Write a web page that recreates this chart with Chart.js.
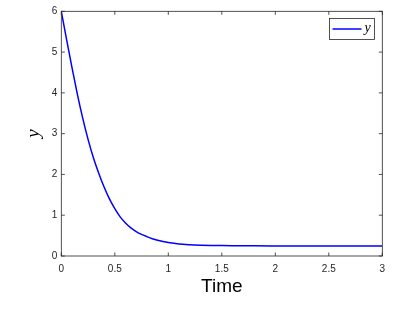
<!DOCTYPE html>
<html><head><meta charset="utf-8">
<script src="https://cdn.jsdelivr.net/npm/chart.js@4/dist/chart.umd.min.js"></script>
<style>html,body{margin:0;padding:0;background:#fff;}</style>
</head><body>
<canvas id="c" width="415" height="312"></canvas>
<script>
const timeValues = [0, 0.05, 0.1, 0.15, 0.2, 0.25, 0.3, 0.35, 0.4, 0.45, 0.5, 0.55, 0.6, 0.65, 0.7, 0.75, 0.8, 0.85, 0.9, 0.95, 1.0, 1.1, 1.2, 1.3, 1.4, 1.5, 1.6, 1.8, 2.0, 2.5, 3.0];
const yValues    = [6.00, 5.30, 4.62, 3.97, 3.38, 2.86, 2.41, 2.03, 1.69, 1.40, 1.16, 0.96, 0.81, 0.69, 0.60, 0.53, 0.475, 0.425, 0.385, 0.355, 0.33, 0.295, 0.277, 0.266, 0.259, 0.255, 0.252, 0.249, 0.248, 0.247, 0.247];
const xTickValues = [0, 0.5, 1, 1.5, 2, 2.5, 3];
const yTickValues = [0, 1, 2, 3, 4, 5, 6];
const seriesLabel = 'y';
const xAxisTitle = 'Time';
const yAxisTitle = 'y';

const axisColor = '#262626';
const lineColor = '#0000ff';

const boxPlugin = {
  id: 'matlabBox',
  afterDraw(chart) {
    const ctx = chart.ctx;
    const a = chart.chartArea;
    const xs = chart.scales.x, ys = chart.scales.y;
    ctx.save();
    ctx.strokeStyle = axisColor;
    ctx.lineWidth = 0.8;
    ctx.strokeRect(a.left, a.top, a.right - a.left, a.bottom - a.top);
    const tl = 3.5;
    ctx.beginPath();
    xTickValues.forEach(v => {
      const px = xs.getPixelForValue(v);
      ctx.moveTo(px, a.bottom); ctx.lineTo(px, a.bottom - tl);
      ctx.moveTo(px, a.top); ctx.lineTo(px, a.top + tl);
    });
    yTickValues.forEach(v => {
      const py = ys.getPixelForValue(v);
      ctx.moveTo(a.left, py); ctx.lineTo(a.left + tl, py);
      ctx.moveTo(a.right, py); ctx.lineTo(a.right - tl, py);
    });
    ctx.stroke();
    // legend
    const lx = 329.5, ly = 18.5, lw = 45, lh = 21;
    ctx.fillStyle = '#fff';
    ctx.fillRect(lx, ly, lw, lh);
    ctx.strokeStyle = axisColor;
    ctx.lineWidth = 0.8;
    ctx.strokeRect(lx, ly, lw, lh);
    const ds = chart.data.datasets[0];
    ctx.strokeStyle = ds.borderColor;
    ctx.lineWidth = 1.5;
    ctx.beginPath();
    ctx.moveTo(lx + 3, ly + lh / 2); ctx.lineTo(lx + 32, ly + lh / 2);
    ctx.stroke();
    ctx.fillStyle = '#000';
    ctx.font = 'italic 14px "Liberation Serif", "DejaVu Serif", serif';
    ctx.textBaseline = 'middle';
    ctx.textAlign = 'left';
    ctx.fillText(ds.label, lx + 35, ly + lh / 2 - 1);
    ctx.restore();
  }
};

new Chart(document.getElementById('c'), {
  type: 'line',
  data: {
    datasets: [{
      label: seriesLabel,
      data: timeValues.map((t, i) => ({x: t, y: yValues[i]})),
      borderColor: lineColor,
      borderWidth: 1.5,
      pointRadius: 0,
      fill: false,
      cubicInterpolationMode: 'monotone'
    }]
  },
  options: {
    responsive: false,
    animation: false,
    devicePixelRatio: 1,
    layout: { padding: { left: 0, top: 11.3, right: 32.7, bottom: 0 } },
    plugins: { legend: { display: false }, tooltip: { enabled: false } },
    scales: {
      x: {
        type: 'linear', min: 0, max: 3,
        afterBuildTicks: s => { s.ticks = xTickValues.map(v => ({value: v})); },
        afterFit: s => { s.height = 56; },
        grid: { display: false, drawTicks: false },
        border: { display: false },
        ticks: { color: axisColor, font: { family: '"Liberation Sans", Arial, sans-serif', size: 10 }, padding: 7, maxRotation: 0, callback: v => String(v) },
        title: { display: true, text: xAxisTitle, color: '#000', font: { family: '"Liberation Sans", Arial, sans-serif', size: 19, lineHeight: 1 }, padding: { top: 0, bottom: 15.5 } }
      },
      y: {
        type: 'linear', min: 0, max: 6,
        afterBuildTicks: s => { s.ticks = yTickValues.map(v => ({value: v})); },
        afterFit: s => { s.width = 61.3; },
        grid: { display: false, drawTicks: false },
        border: { display: false },
        ticks: { color: axisColor, font: { family: '"Liberation Sans", Arial, sans-serif', size: 10 }, padding: 4, callback: v => String(v) },
        title: { display: true, text: yAxisTitle, color: '#000', font: { family: '"Liberation Serif", "DejaVu Serif", serif', style: 'italic', size: 19, lineHeight: 1 }, padding: { top: 24, bottom: 0 } }
      }
    }
  },
  plugins: [boxPlugin]
});
</script>
</body></html>
